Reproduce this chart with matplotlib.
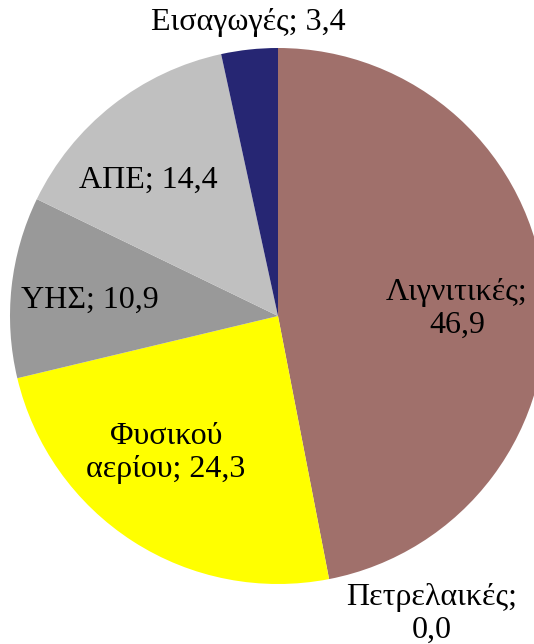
import matplotlib
matplotlib.use("Agg")
import matplotlib.pyplot as plt

# Electricity generation mix (%)
categories = ["Λιγνιτικές", "Πετρελαικές", "Φυσικού αερίου", "ΥΗΣ", "ΑΠΕ", "Εισαγωγές"]
values = [46.9, 0.0, 24.3, 10.9, 14.4, 3.4]
label_texts = ["Λιγνιτικές;\n46,9", "Πετρελαικές;\n0,0", "Φυσικού\nαερίου; 24,3",
               "ΥΗΣ; 10,9", "ΑΠΕ; 14,4", "Εισαγωγές; 3,4"]

colors = ["#A0706B", "#FF8000", "#FFFF00", "#999999", "#C0C0C0", "#262673"]
# label anchor positions in pixel space (x from left, y from top)
label_pos = [(457, 309), (432, 614), (166, 453), (90, 300), (148, 180), (248, 22)]

plt.rcParams["font.family"] = ["Liberation Serif", "DejaVu Serif"]

W, H = 534, 644
fig = plt.figure(figsize=(W / 100, H / 100), dpi=100)
ax = fig.add_axes([0, 0, 1, 1])

cx, cy, r = 278, H - 316, 268
ax.pie(values, colors=colors, startangle=90, counterclock=False,
       center=(cx, cy), radius=r, wedgeprops=dict(linewidth=0))

for txt, (x, y) in zip(label_texts, label_pos):
    ax.text(x, H - y, txt, ha="center", va="center", fontsize=23,
            linespacing=1.15, color="black")

ax.set_xlim(0, W)
ax.set_ylim(0, H)
ax.set_aspect("auto")
ax.axis("off")

fig.savefig("out.png", dpi=100, facecolor="white")
